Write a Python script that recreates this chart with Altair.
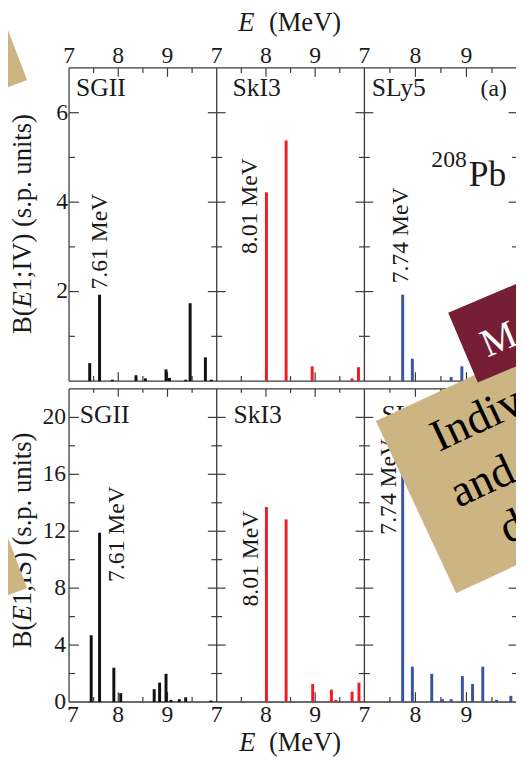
import altair as alt
import pandas as pd

FONT = "Liberation Serif"
INK = "#1a1a1a"
FRAME = "#3a3a3a"
TAN = "#cdb583"
MAROON = "#751e34"

models = ["SGII", "SkI3", "SLy5"]
model_colors = ["#111111", "#ee1d25", "#3a54a4"]
panel_offset = [0, 3, 6]

# ---- B(E1;IV) (s.p. units) -------------------------------------------
iv_sgii_E = [7.42, 7.62, 7.88, 8.36, 8.55, 8.97, 9.04, 9.37, 9.46, 9.77, 9.89]
iv_sgii_B = [0.40, 1.93, 0.03, 0.13, 0.06, 0.26, 0.07, 0.03, 1.74, 0.53, 0.03]
iv_ski3_E = [8.01, 8.41, 8.94, 9.75, 9.88]
iv_ski3_B = [4.22, 5.38, 0.33, 0.06, 0.31]
iv_sly5_E = [7.75, 7.94, 8.70, 8.91, 9.12]
iv_sly5_B = [1.93, 0.50, 0.09, 0.33, 0.05]

# ---- B(E1;IS) (s.p. units) -------------------------------------------
is_sgii_E = [7.45, 7.62, 7.91, 8.05, 8.73, 8.84, 8.97, 9.07, 9.24, 9.37, 9.88]
is_sgii_B = [4.69, 11.9, 2.41, 0.62, 0.90, 1.36, 1.98, 0.15, 0.20, 0.33, 0.10]
is_ski3_E = [8.01, 8.41, 8.95, 9.33, 9.42, 9.75, 9.89]
is_ski3_B = [13.7, 12.83, 1.26, 0.87, 0.15, 0.73, 1.36]
is_sly5_E = [7.75, 7.94, 8.32, 8.53, 8.70, 8.92, 9.12, 9.32, 9.59, 9.87]
is_sly5_B = [17.0, 2.48, 1.98, 0.20, 0.20, 1.82, 1.26, 2.48, 0.15, 0.43]

peak_labels = ["7.61 MeV", "8.01 MeV", "7.74 MeV"]

x_major = [8, 9]
x_minor = [7.5, 8.5, 9.5]
x_labels = [7, 8, 9]
top_major = [2, 4, 6]
top_minor = [1, 3, 5]
top_labels = [2, 4, 6]
bot_major = [4, 8, 12, 16, 20]
bot_minor = [2, 6, 10, 14, 18]
bot_labels = [0, 4, 8, 12, 16, 20]


def bars_df(sets):
    rows = []
    for i, (E, B) in enumerate(sets):
        for e, b in zip(E, B):
            rows.append({"model": models[i], "E": e, "B": b,
                         "pos": panel_offset[i] + e - 7, "zero": 0})
    return pd.DataFrame(rows)


df_iv = bars_df([(iv_sgii_E, iv_sgii_B), (iv_ski3_E, iv_ski3_B), (iv_sly5_E, iv_sly5_B)])
df_is = bars_df([(is_sgii_E, is_sgii_B), (is_ski3_E, is_ski3_B), (is_sly5_E, is_sly5_B)])

xsc = alt.Scale(domain=[0, 3, 6, 9], range=[0, 150, 300, 455.5], nice=False, zero=False)
ytop = alt.Scale(domain=[0, 7], range=[318, 0], nice=False, zero=False)
ybot = alt.Scale(domain=[0, 22], range=[644, 326], nice=False, zero=False)
one = pd.DataFrame({"k": [0]})


def bar_layer(df, ysc):
    return alt.Chart(df).mark_rule(strokeWidth=3, strokeCap="butt").encode(
        x=alt.X("pos:Q", scale=xsc, axis=None),
        y=alt.Y("B:Q", scale=ysc, axis=None),
        y2="zero:Q",
        color=alt.Color("model:N", scale=alt.Scale(domain=models, range=model_colors), legend=None),
    )


def frame_layer(ymax, ysc):
    df = pd.DataFrame({"x": [0, 3, 6, 9, 0, 0], "x2": [0, 3, 6, 9, 9, 9],
                       "y": [0, 0, 0, 0, 0, ymax], "y2": [ymax] * 4 + [0, ymax]})
    return alt.Chart(df).mark_rule(color=FRAME, strokeWidth=1.3).encode(
        x=alt.X("x:Q", scale=xsc, axis=None), x2="x2:Q",
        y=alt.Y("y:Q", scale=ysc, axis=None), y2="y2:Q")


def xtick_layer(yv, ysc, E_list, size, off):
    df = pd.DataFrame([{"pos": o + e - 7, "yv": yv} for o in panel_offset for e in E_list])
    return alt.Chart(df).mark_tick(orient="vertical", size=size, thickness=1.2, yOffset=off,
                                   color=FRAME, opacity=1).encode(
        x=alt.X("pos:Q", scale=xsc, axis=None), y=alt.Y("yv:Q", scale=ysc, axis=None))


def ytick_layer(vals, ysc, xs, size, off):
    df = pd.DataFrame([{"px": x, "yv": v} for x in xs for v in vals])
    return alt.Chart(df).mark_tick(orient="horizontal", size=size, thickness=1.2, xOffset=off,
                                   color=FRAME, opacity=1).encode(
        x=alt.X("px:Q", scale=xsc, axis=None), y=alt.Y("yv:Q", scale=ysc, axis=None))


def txt(text, x, y, size, align="left", baseline="alphabetic", angle=0, italic=False, color=INK):
    kw = dict(text=text, fontSize=size, font=FONT, align=align, baseline=baseline, color=color)
    if angle:
        kw["angle"] = angle
    if italic:
        kw["fontStyle"] = "italic"
    return alt.Chart(one).mark_text(**kw).encode(x=alt.value(x), y=alt.value(y))


def patch(px, py, side, angle, color, shape="square"):
    return alt.Chart(one).mark_point(shape=shape, size=side * side, angle=angle, filled=True,
                                     fill=color, color=color, opacity=1, strokeWidth=0).encode(
        x=alt.value(px), y=alt.value(py))


layers = []
# frames
layers += [frame_layer(7, ytop), frame_layer(22, ybot)]
# x ticks
layers += [xtick_layer(7, ytop, x_major, 9, 4.5), xtick_layer(7, ytop, x_minor, 5, 2.5),
           xtick_layer(0, ytop, x_major, 9, -4.5), xtick_layer(0, ytop, x_minor, 5, -2.5),
           xtick_layer(22, ybot, x_major, 8, 4), xtick_layer(22, ybot, x_minor, 4, 2),
           xtick_layer(0, ybot, x_major, 10, -5), xtick_layer(0, ybot, x_minor, 5, -2.5)]
# y ticks
layers += [ytick_layer(top_major, ytop, [0], 10, 5), ytick_layer(top_minor, ytop, [0], 6, 3),
           ytick_layer(top_major, ytop, [3, 6, 9], 18, 0), ytick_layer(top_minor, ytop, [3, 6, 9], 11, 0),
           ytick_layer(bot_major, ybot, [0], 10, 5), ytick_layer(bot_minor, ybot, [0], 6, 3),
           ytick_layer(bot_major, ybot, [3, 6, 9], 18, 0), ytick_layer(bot_minor, ybot, [3, 6, 9], 11, 0)]
# bars
layers += [bar_layer(df_iv, ytop), bar_layer(df_is, ybot)]

# x tick labels
xl = pd.DataFrame([{"pos": o + e - 7, "t": str(e)} for o in panel_offset for e in x_labels])
layers.append(alt.Chart(xl).mark_text(font=FONT, fontSize=24, color=INK, baseline="alphabetic").encode(
    x=alt.X("pos:Q", scale=xsc, axis=None), y=alt.value(-4.7), text="t:N"))
layers.append(alt.Chart(xl[xl["pos"] > 0]).mark_text(font=FONT, fontSize=24, color=INK, baseline="alphabetic").encode(
    x=alt.X("pos:Q", scale=xsc, axis=None), y=alt.value(664), text="t:N"))
layers.append(alt.Chart(xl[xl["pos"] == 0]).mark_text(font=FONT, fontSize=24, color=INK, baseline="alphabetic", dx=4).encode(
    x=alt.X("pos:Q", scale=xsc, axis=None), y=alt.value(664), text="t:N"))

# y tick labels
yl_top = pd.DataFrame({"v": top_labels, "t": [str(v) for v in top_labels]})
yl_bot = pd.DataFrame({"v": bot_labels, "t": [str(v) for v in bot_labels]})
layers.append(alt.Chart(yl_top).mark_text(font=FONT, fontSize=24, color=INK, align="right", baseline="middle").encode(
    x=alt.value(-1), y=alt.Y("v:Q", scale=ytop, axis=None), text="t:N"))
layers.append(alt.Chart(yl_bot).mark_text(font=FONT, fontSize=24, color=INK, align="right", baseline="middle").encode(
    x=alt.value(-3), y=alt.Y("v:Q", scale=ybot, axis=None), text="t:N"))

# axis titles
layers += [txt("E", 172, -38, 27, italic=True), txt("(MeV)", 203, -38, 27),
           txt("E", 173, 693.7, 27, italic=True), txt("(MeV)", 203, 693.7, 27)]
layers += [txt("B(", -38.3, 270.3, 27, angle=270), txt("E", -38.3, 243.3, 27, angle=270, italic=True),
           txt("1;IV) (s.p. units)", -38.3, 226.8, 27, angle=270)]
layers += [txt("B(", -38.3, 589.3, 27, angle=270), txt("E", -38.3, 562.3, 27, angle=270, italic=True),
           txt("1;IS) (s.p. units)", -38.3, 545.8, 27, angle=270)]

# panel labels
layers += [txt(models[0], 7, 28.7, 26), txt(models[1], 166, 28.7, 26), txt(models[2], 307.5, 28.7, 26),
           txt(models[0], 11, 361, 26), txt(models[1], 167, 361, 26), txt(models[2], 317.5, 361, 26)]
layers += [txt("(a)", 418, 28.4, 24), txt("208", 368, 100.3, 24), txt("Pb", 406, 120.3, 36)]

# peak energy labels
layers += [txt(peak_labels[0], 31.7, 225, 24, angle=270, baseline="middle"),
           txt(peak_labels[1], 184, 189, 24, angle=270, baseline="middle"),
           txt(peak_labels[2], 337.6, 218.7, 24, angle=270, baseline="middle"),
           txt(peak_labels[0], 49, 522, 24, angle=270, baseline="middle"),
           txt(peak_labels[1], 185, 547, 24, angle=270, baseline="middle"),
           txt(peak_labels[2], 325, 474, 24, angle=270, baseline="middle")]

# overlapping slide decorations
layers += [patch(-167.3, -43.3, 193, 339, TAN), patch(-167.2, 472.7, 193, 339, TAN),
           patch(439.9, 405.3, 193, 335, TAN),
           patch(455.4, 260.7, 120, 337, MAROON, shape="M-1,-0.6417H1V0.6417H-1Z")]
layers += [txt("Individual", 376, 390, 46, angle=335, color="#000000"),
           txt("and", 395.5, 447, 46, angle=335, color="#000000"),
           txt("d", 445.5, 483.7, 46, angle=335, color="#000000"),
           txt("M", 425, 294, 40, angle=337, color="#ffffff")]

chart = alt.layer(*layers).resolve_scale(y="independent").properties(
    width=454, height=644,
    padding={"left": 62, "top": 55, "right": 0, "bottom": 53},
    autosize=alt.AutoSizeParams(type="none"),
).configure_view(stroke=None)

chart.save("out.html", embed_options={"renderer": "svg", "actions": False})
